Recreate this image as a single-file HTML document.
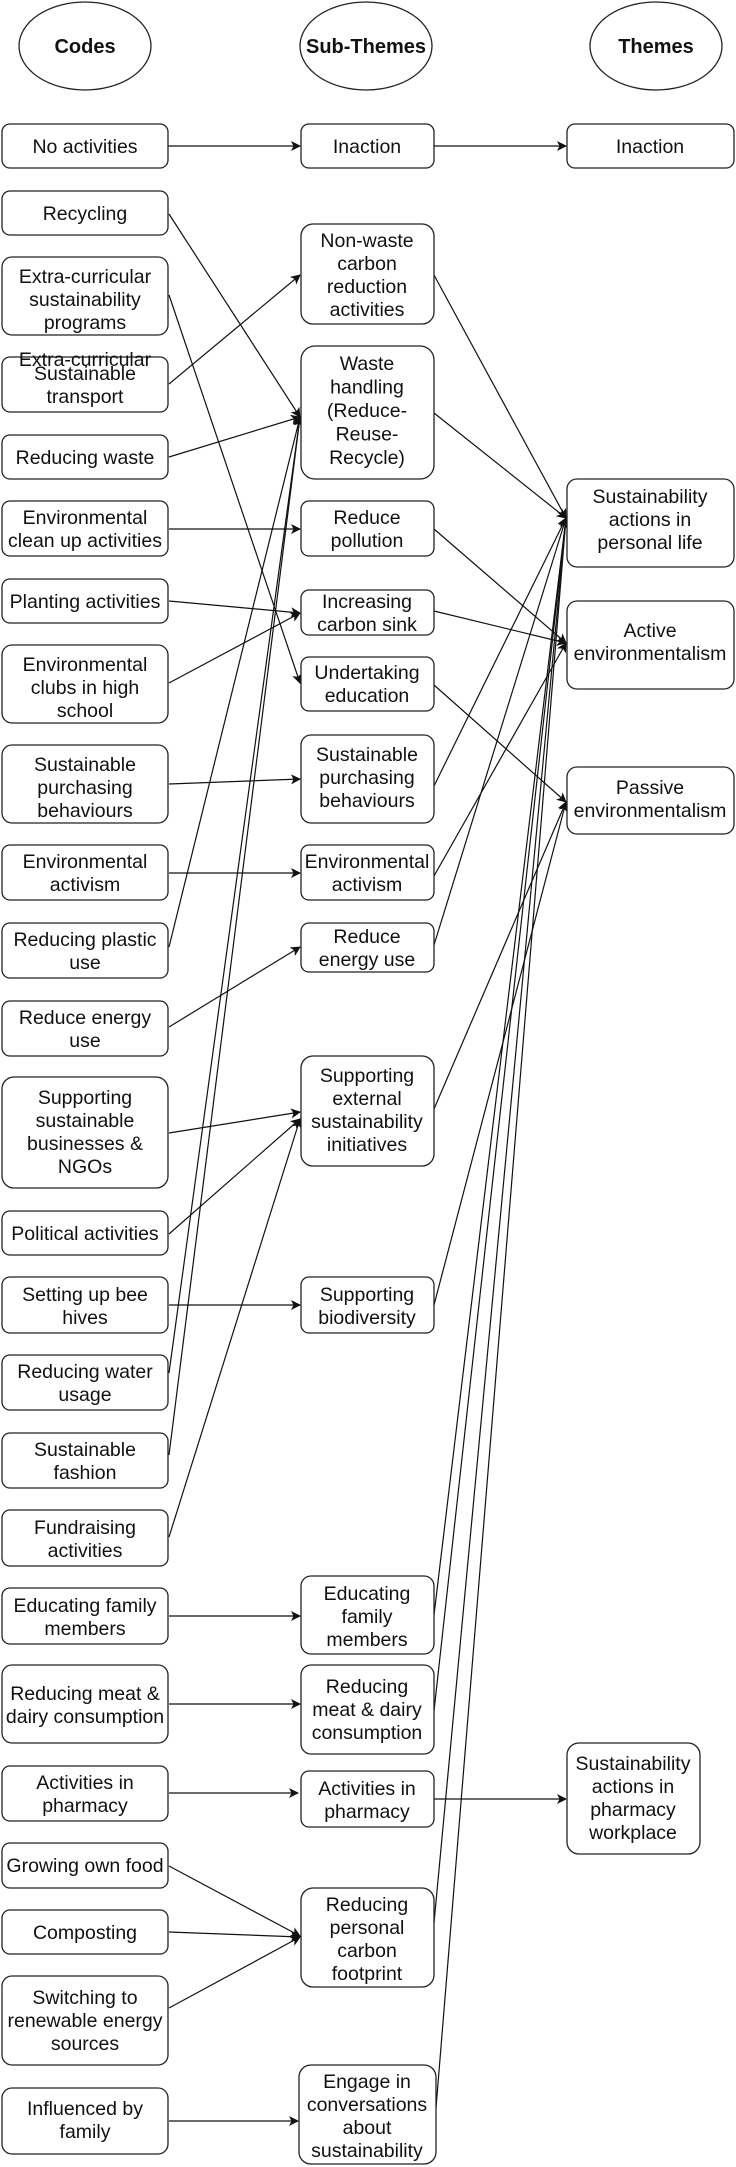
<!DOCTYPE html>
<html><head><meta charset="utf-8"><style>
html,body{margin:0;padding:0;background:#fff;}
svg{display:block;}
text{font-family:"Liberation Sans",Arial,sans-serif;font-size:19.5px;fill:#111;}
.h{font-weight:bold;font-size:20px;}
rect{fill:#fff;stroke:#222;stroke-width:1.3;}
line{stroke:#111;stroke-width:1.2;}
</style></head><body>
<svg width="736" height="2167" viewBox="0 0 736 2167" xmlns="http://www.w3.org/2000/svg">
<defs><marker id="a" markerWidth="10" markerHeight="10" refX="9" refY="5" orient="auto" markerUnits="userSpaceOnUse"><path d="M0,0 L10,5 L0,10 L2.5,5 Z" fill="#111"/></marker></defs>
<g fill="#fff" stroke="#222" stroke-width="1.3">
<ellipse cx="85" cy="46" rx="66" ry="44"/>
<ellipse cx="366" cy="46" rx="66" ry="44"/>
<ellipse cx="656" cy="46" rx="66" ry="44"/>
</g>
<text class="h" x="85" y="53" text-anchor="middle">Codes</text>
<text class="h" x="366" y="53" text-anchor="middle">Sub-Themes</text>
<text class="h" x="656" y="53" text-anchor="middle">Themes</text>

<g id="lines">
<line x1="168" y1="146" x2="300" y2="146" marker-end="url(#a)"/>
<line x1="434" y1="146" x2="566" y2="146" marker-end="url(#a)"/>
<line x1="169" y1="214" x2="300" y2="417" marker-end="url(#a)"/>
<line x1="169" y1="295" x2="300" y2="683" marker-end="url(#a)"/>
<line x1="169" y1="384" x2="300" y2="275" marker-end="url(#a)"/>
<line x1="169" y1="457" x2="300" y2="417" marker-end="url(#a)"/>
<line x1="169" y1="529" x2="300" y2="529" marker-end="url(#a)"/>
<line x1="169" y1="601" x2="300" y2="613" marker-end="url(#a)"/>
<line x1="169" y1="683" x2="300" y2="613" marker-end="url(#a)"/>
<line x1="169" y1="784" x2="300" y2="779" marker-end="url(#a)"/>
<line x1="169" y1="873" x2="300" y2="873" marker-end="url(#a)"/>
<line x1="169" y1="947" x2="300" y2="417" marker-end="url(#a)"/>
<line x1="169" y1="1027" x2="300" y2="947" marker-end="url(#a)"/>
<line x1="169" y1="1133" x2="300" y2="1112" marker-end="url(#a)"/>
<line x1="169" y1="1234" x2="300" y2="1119" marker-end="url(#a)"/>
<line x1="169" y1="1305" x2="300" y2="1305" marker-end="url(#a)"/>
<line x1="169" y1="1373" x2="300" y2="417" marker-end="url(#a)"/>
<line x1="169" y1="1455" x2="300" y2="417" marker-end="url(#a)"/>
<line x1="169" y1="1537" x2="300" y2="1119" marker-end="url(#a)"/>
<line x1="169" y1="1616" x2="300" y2="1616" marker-end="url(#a)"/>
<line x1="169" y1="1704" x2="300" y2="1704" marker-end="url(#a)"/>
<line x1="169" y1="1793" x2="298" y2="1793" marker-end="url(#a)"/>
<line x1="169" y1="1866" x2="300" y2="1936" marker-end="url(#a)"/>
<line x1="169" y1="1932" x2="300" y2="1937" marker-end="url(#a)"/>
<line x1="169" y1="2008" x2="300" y2="1937" marker-end="url(#a)"/>
<line x1="169" y1="2121" x2="298" y2="2121" marker-end="url(#a)"/>

<line x1="434" y1="275" x2="566" y2="518" marker-end="url(#a)"/>
<line x1="434" y1="413" x2="566" y2="518" marker-end="url(#a)"/>
<line x1="434" y1="529" x2="566" y2="643" marker-end="url(#a)"/>
<line x1="434" y1="611" x2="566" y2="643" marker-end="url(#a)"/>
<line x1="434" y1="685" x2="566" y2="802" marker-end="url(#a)"/>
<line x1="434" y1="786" x2="566" y2="518" marker-end="url(#a)"/>
<line x1="434" y1="876" x2="566" y2="643" marker-end="url(#a)"/>
<line x1="434" y1="945" x2="566" y2="518" marker-end="url(#a)"/>
<line x1="434" y1="1109" x2="566" y2="802" marker-end="url(#a)"/>
<line x1="434" y1="1305" x2="566" y2="802" marker-end="url(#a)"/>
<line x1="434" y1="1615" x2="566" y2="518" marker-end="url(#a)"/>
<line x1="434" y1="1711" x2="566" y2="518" marker-end="url(#a)"/>
<line x1="434" y1="1923" x2="566" y2="518" marker-end="url(#a)"/>
<line x1="436" y1="2108" x2="566" y2="518" marker-end="url(#a)"/>
<line x1="434" y1="1799" x2="566" y2="1799" marker-end="url(#a)"/>
</g>

<g id="boxes">
<rect x="2" y="124" width="166" height="44" rx="8"/>
<rect x="2" y="191" width="166" height="44" rx="8"/>
<rect x="2" y="257" width="166" height="78" rx="10"/>
<rect x="2" y="357" width="166" height="55" rx="8"/>
<rect x="2" y="435" width="166" height="44" rx="8"/>
<rect x="2" y="501" width="166" height="55" rx="8"/>
<rect x="2" y="579" width="166" height="44" rx="8"/>
<rect x="2" y="645" width="166" height="78" rx="10"/>
<rect x="2" y="745" width="166" height="78" rx="10"/>
<rect x="2" y="845" width="166" height="55" rx="8"/>
<rect x="2" y="923" width="166" height="55" rx="8"/>
<rect x="2" y="1001" width="166" height="55" rx="8"/>
<rect x="2" y="1077" width="166" height="111" rx="12"/>
<rect x="2" y="1211" width="166" height="44" rx="8"/>
<rect x="2" y="1277" width="166" height="56" rx="8"/>
<rect x="2" y="1355" width="166" height="55" rx="8"/>
<rect x="2" y="1433" width="166" height="55" rx="8"/>
<rect x="2" y="1510" width="166" height="56" rx="8"/>
<rect x="2" y="1588" width="166" height="56" rx="8"/>
<rect x="2" y="1665" width="166" height="78" rx="10"/>
<rect x="2" y="1766" width="166" height="55" rx="8"/>
<rect x="2" y="1843" width="166" height="45" rx="8"/>
<rect x="2" y="1910" width="166" height="44" rx="8"/>
<rect x="2" y="1976" width="166" height="89" rx="10"/>
<rect x="2" y="2088" width="166" height="66" rx="10"/>

<rect x="301" y="124" width="133" height="44" rx="8"/>
<rect x="301" y="224" width="133" height="100" rx="12"/>
<rect x="301" y="346" width="133" height="133" rx="14"/>
<rect x="301" y="501" width="133" height="55" rx="8"/>
<rect x="301" y="590" width="133" height="45" rx="8"/>
<rect x="301" y="657" width="133" height="54" rx="8"/>
<rect x="301" y="735" width="133" height="88" rx="10"/>
<rect x="301" y="845" width="133" height="55" rx="8"/>
<rect x="301" y="923" width="133" height="49" rx="8"/>
<rect x="301" y="1056" width="133" height="110" rx="12"/>
<rect x="301" y="1277" width="133" height="56" rx="8"/>
<rect x="301" y="1576" width="133" height="78" rx="10"/>
<rect x="301" y="1665" width="133" height="89" rx="10"/>
<rect x="301" y="1771" width="133" height="56" rx="8"/>
<rect x="301" y="1888" width="133" height="99" rx="12"/>
<rect x="299" y="2065" width="137" height="99" rx="12"/>

<rect x="567" y="124" width="167" height="44" rx="8"/>
<rect x="567" y="479" width="167" height="88" rx="10"/>
<rect x="567" y="601" width="167" height="88" rx="10"/>
<rect x="567" y="767" width="167" height="67" rx="10"/>
<rect x="567" y="1743" width="133" height="111" rx="12"/>
</g>

<g text-anchor="middle">
<text x="85" y="153">No activities</text>
<text x="85" y="220">Recycling</text>
<text x="85" y="366"><tspan x="85" y="366">Extra-curricular</tspan></text>
<text x="85" y="283"><tspan x="85" dy="0">Extra-curricular</tspan><tspan x="85" dy="23">sustainability</tspan><tspan x="85" dy="23">programs</tspan></text>
<text x="85" y="380"><tspan x="85" dy="0">Sustainable</tspan><tspan x="85" dy="23">transport</tspan></text>
<text x="85" y="464">Reducing waste</text>
<text x="85" y="524"><tspan x="85" dy="0">Environmental</tspan><tspan x="85" dy="23">clean up activities</tspan></text>
<text x="85" y="608">Planting activities</text>
<text x="85" y="671"><tspan x="85" dy="0">Environmental</tspan><tspan x="85" dy="23">clubs in high</tspan><tspan x="85" dy="23">school</tspan></text>
<text x="85" y="771"><tspan x="85" dy="0">Sustainable</tspan><tspan x="85" dy="23">purchasing</tspan><tspan x="85" dy="23">behaviours</tspan></text>
<text x="85" y="868"><tspan x="85" dy="0">Environmental</tspan><tspan x="85" dy="23">activism</tspan></text>
<text x="85" y="946"><tspan x="85" dy="0">Reducing plastic</tspan><tspan x="85" dy="23">use</tspan></text>
<text x="85" y="1024"><tspan x="85" dy="0">Reduce energy</tspan><tspan x="85" dy="23">use</tspan></text>
<text x="85" y="1104"><tspan x="85" dy="0">Supporting</tspan><tspan x="85" dy="23">sustainable</tspan><tspan x="85" dy="23">businesses &amp;</tspan><tspan x="85" dy="23">NGOs</tspan></text>
<text x="85" y="1240">Political activities</text>
<text x="85" y="1301"><tspan x="85" dy="0">Setting up bee</tspan><tspan x="85" dy="23">hives</tspan></text>
<text x="85" y="1378"><tspan x="85" dy="0">Reducing water</tspan><tspan x="85" dy="23">usage</tspan></text>
<text x="85" y="1456"><tspan x="85" dy="0">Sustainable</tspan><tspan x="85" dy="23">fashion</tspan></text>
<text x="85" y="1534"><tspan x="85" dy="0">Fundraising</tspan><tspan x="85" dy="23">activities</tspan></text>
<text x="85" y="1612"><tspan x="85" dy="0">Educating family</tspan><tspan x="85" dy="23">members</tspan></text>
<text x="85" y="1700"><tspan x="85" dy="0">Reducing meat &amp;</tspan><tspan x="85" dy="23">dairy consumption</tspan></text>
<text x="85" y="1789"><tspan x="85" dy="0">Activities in</tspan><tspan x="85" dy="23">pharmacy</tspan></text>
<text x="85" y="1872">Growing own food</text>
<text x="85" y="1939">Composting</text>
<text x="85" y="2004"><tspan x="85" dy="0">Switching to</tspan><tspan x="85" dy="23">renewable energy</tspan><tspan x="85" dy="23">sources</tspan></text>
<text x="85" y="2115"><tspan x="85" dy="0">Influenced by</tspan><tspan x="85" dy="23">family</tspan></text>

<text x="367" y="153">Inaction</text>
<text x="367" y="247"><tspan x="367" dy="0">Non-waste</tspan><tspan x="367" dy="23">carbon</tspan><tspan x="367" dy="23">reduction</tspan><tspan x="367" dy="23">activities</tspan></text>
<text x="367" y="370"><tspan x="367" dy="0">Waste</tspan><tspan x="367" dy="23.5">handling</tspan><tspan x="367" dy="23.5">(Reduce-</tspan><tspan x="367" dy="23.5">Reuse-</tspan><tspan x="367" dy="23.5">Recycle)</tspan></text>
<text x="367" y="524"><tspan x="367" dy="0">Reduce</tspan><tspan x="367" dy="23">pollution</tspan></text>
<text x="367" y="608"><tspan x="367" dy="0">Increasing</tspan><tspan x="367" dy="23">carbon sink</tspan></text>
<text x="367" y="679"><tspan x="367" dy="0">Undertaking</tspan><tspan x="367" dy="23">education</tspan></text>
<text x="367" y="761"><tspan x="367" dy="0">Sustainable</tspan><tspan x="367" dy="23">purchasing</tspan><tspan x="367" dy="23">behaviours</tspan></text>
<text x="367" y="868"><tspan x="367" dy="0">Environmental</tspan><tspan x="367" dy="23">activism</tspan></text>
<text x="367" y="943"><tspan x="367" dy="0">Reduce</tspan><tspan x="367" dy="23">energy use</tspan></text>
<text x="367" y="1082"><tspan x="367" dy="0">Supporting</tspan><tspan x="367" dy="23">external</tspan><tspan x="367" dy="23">sustainability</tspan><tspan x="367" dy="23">initiatives</tspan></text>
<text x="367" y="1301"><tspan x="367" dy="0">Supporting</tspan><tspan x="367" dy="23">biodiversity</tspan></text>
<text x="367" y="1600"><tspan x="367" dy="0">Educating</tspan><tspan x="367" dy="23">family</tspan><tspan x="367" dy="23">members</tspan></text>
<text x="367" y="1693"><tspan x="367" dy="0">Reducing</tspan><tspan x="367" dy="23">meat &amp; dairy</tspan><tspan x="367" dy="23">consumption</tspan></text>
<text x="367" y="1795"><tspan x="367" dy="0">Activities in</tspan><tspan x="367" dy="23">pharmacy</tspan></text>
<text x="367" y="1911"><tspan x="367" dy="0">Reducing</tspan><tspan x="367" dy="23">personal</tspan><tspan x="367" dy="23">carbon</tspan><tspan x="367" dy="23">footprint</tspan></text>
<text x="367" y="2088"><tspan x="367" dy="0">Engage in</tspan><tspan x="367" dy="23">conversations</tspan><tspan x="367" dy="23">about</tspan><tspan x="367" dy="23">sustainability</tspan></text>

<text x="650" y="153">Inaction</text>
<text x="650" y="503"><tspan x="650" dy="0">Sustainability</tspan><tspan x="650" dy="23">actions in</tspan><tspan x="650" dy="23">personal life</tspan></text>
<text x="650" y="637"><tspan x="650" dy="0">Active</tspan><tspan x="650" dy="23">environmentalism</tspan></text>
<text x="650" y="794"><tspan x="650" dy="0">Passive</tspan><tspan x="650" dy="23">environmentalism</tspan></text>
<text x="633" y="1770"><tspan x="633" dy="0">Sustainability</tspan><tspan x="633" dy="23">actions in</tspan><tspan x="633" dy="23">pharmacy</tspan><tspan x="633" dy="23">workplace</tspan></text>
</g>
</svg>
</body></html>
